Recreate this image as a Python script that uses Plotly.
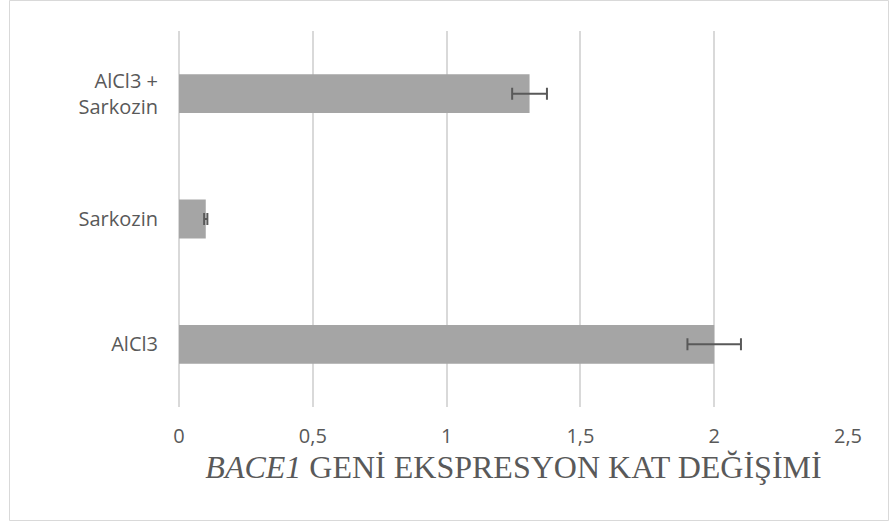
import plotly.graph_objects as go

categories = ["AlCl3", "Sarkozin", "AlCl3 +<br>Sarkozin"]
values = [2.0, 0.1, 1.31]
errors = [0.1, 0.006, 0.065]
x_ticks = [0, 0.5, 1, 1.5, 2, 2.5]
x_tick_labels = ["0", "0,5", "1", "1,5", "2", "2,5"]
x_title = "<i>BACE1</i> GENİ EKSPRESYON KAT DEĞİŞİMİ"

fig = go.Figure(go.Bar(
    y=categories, x=values, orientation="h",
    marker=dict(color="#a5a5a5", line=dict(width=0)),
    error_x=dict(type="data", array=errors, visible=True, color="#595959", thickness=2, width=6),
    hoverinfo="none",
))

L, R, T, B = 179, 41, 31, 115
W, H = 889, 522
pw, ph = W - L - R, H - T - B

fig.update_layout(
    width=W, height=H,
    margin=dict(l=L, r=R, t=T, b=B, autoexpand=False),
    paper_bgcolor="white", plot_bgcolor="white",
    bargap=0.69,
    showlegend=False,
    font=dict(family="Open Sans, Liberation Sans, sans-serif", size=20, color="#595959"),
    xaxis=dict(
        range=[0, 2.5], tickvals=x_ticks, ticktext=x_tick_labels,
        showgrid=True, gridcolor="#d9d9d9", gridwidth=1.5,
        zeroline=True, zerolinecolor="#d9d9d9", zerolinewidth=1.5,
        showline=False, ticks="", ticklen=0,
        ticklabelstandoff=15,
        tickfont=dict(size=20, color="#595959"),
        title=dict(text=x_title, font=dict(family="Liberation Serif, Times New Roman, serif", size=32, color="#595959"), standoff=6),
        automargin=False,
    ),
    yaxis=dict(
        showgrid=False, zeroline=False, showline=False, ticks="",
        tickfont=dict(size=20, color="#595959"),
        ticklabelstandoff=20,
        automargin=False,
    ),
    shapes=[dict(
        type="rect", xref="paper", yref="paper",
        x0=(9.5 - L) / pw, x1=(888.5 - L) / pw,
        y0=(H - B - 520.5) / ph, y1=(H - B - 0.5) / ph,
        line=dict(color="#d9d9d9", width=1), fillcolor="rgba(0,0,0,0)", layer="below",
    )],
)

fig.write_html("out.html", config={"displayModeBar": False},
               post_script="document.body.style.margin='0';document.body.style.overflow='hidden';")
